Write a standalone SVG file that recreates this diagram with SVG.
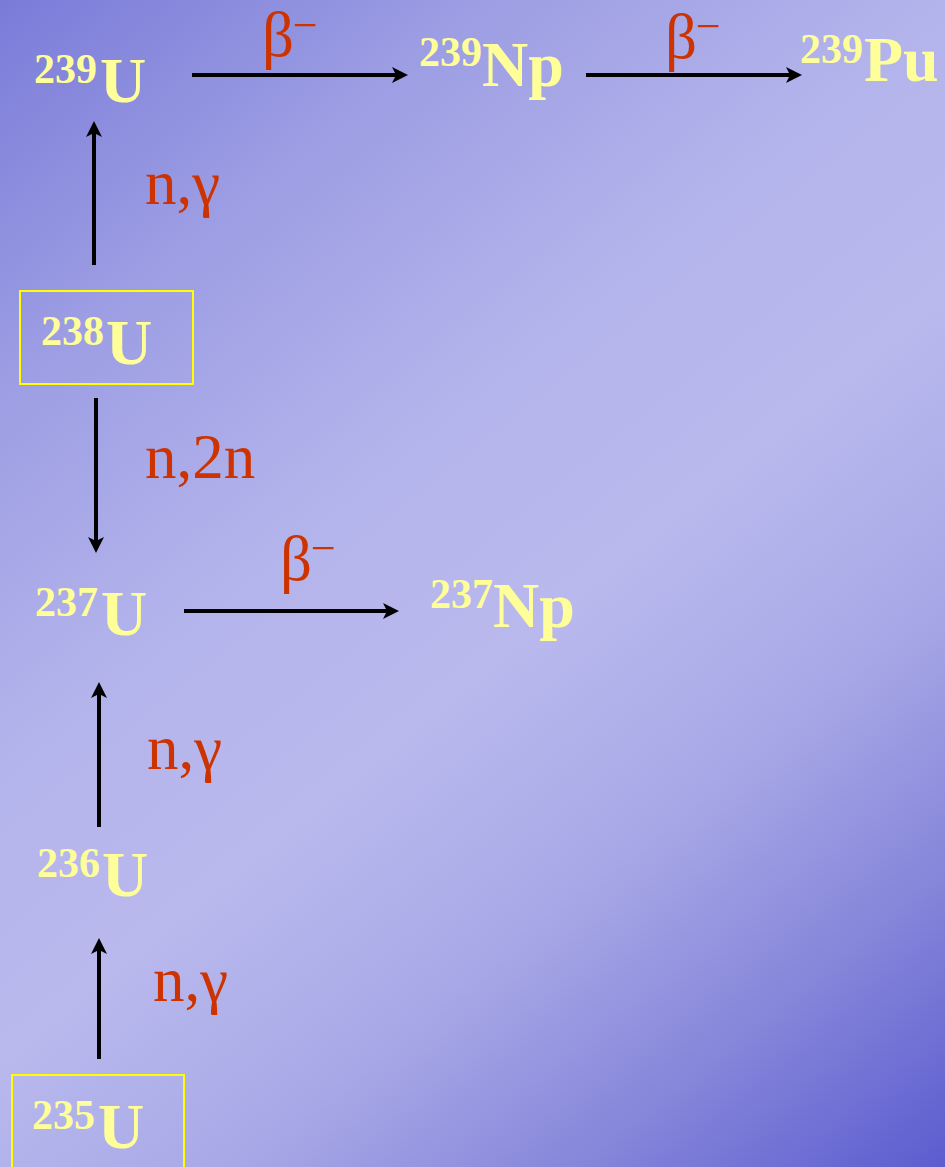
<svg xmlns="http://www.w3.org/2000/svg" width="945" height="1167" viewBox="0 0 945 1167">
<style>
.iso{font-family:"Liberation Serif","Times New Roman",serif;font-weight:bold;fill:#ffff99}
.sup{font-size:42px}
.el{font-size:64px}
.lbl{font-family:"Liberation Serif","Times New Roman",serif;fill:#cc3300;font-size:63px}
.minus{font-family:"Liberation Serif","Times New Roman",serif;fill:#cc3300;font-size:44px}
.arr{stroke:#000;stroke-width:4;fill:none;marker-end:url(#ah)}
.box{fill:none;stroke:#ffff00;stroke-width:2}
</style>
<defs>
<linearGradient id="bg" gradientUnits="userSpaceOnUse" x1="0" y1="0" x2="945" y2="1167">
<stop offset="0" stop-color="#7a7bd8"/>
<stop offset="0.2" stop-color="#9c9de3"/>
<stop offset="0.4" stop-color="#b4b4ec"/>
<stop offset="0.55" stop-color="#b9b9ee"/>
<stop offset="0.7" stop-color="#a8a8e7"/>
<stop offset="0.85" stop-color="#8585da"/>
<stop offset="1" stop-color="#5c5cd0"/>
</linearGradient>
<marker id="ah" markerUnits="userSpaceOnUse" markerWidth="17" markerHeight="17" viewBox="0 0 17 17" refX="8" refY="8.5" orient="auto">
<path d="M0,0.5 L16,8.5 L0,16.5 L4,8.5 Z" fill="#000"/>
</marker>
</defs>
<rect x="0" y="0" width="945" height="1167" fill="url(#bg)"/>

<g id="connectors">
<line class="arr" x1="192" y1="75" x2="400" y2="75"/>
<line class="arr" x1="586" y1="75" x2="794" y2="75"/>
<line class="arr" x1="184" y1="611" x2="391" y2="611"/>
<line class="arr" x1="94" y1="265" x2="94" y2="129"/>
<line class="arr" x1="96" y1="398" x2="96" y2="545"/>
<line class="arr" x1="99" y1="827" x2="99" y2="690"/>
<line class="arr" x1="99" y1="1059" x2="99" y2="946"/>
<g id="labels">
<text class="lbl" x="262" y="56">β</text><text class="minus" x="293" y="40">−</text>
<text class="lbl" x="665" y="58">β</text><text class="minus" x="696" y="41">−</text>
<text class="lbl" x="280" y="580">β</text><text class="minus" x="311" y="563">−</text>
<text class="lbl" x="145" y="204">n,γ</text>
<text class="lbl" x="145" y="478">n,2n</text>
<text class="lbl" x="147" y="769">n,γ</text>
<text class="lbl" x="153" y="1001">n,γ</text>
</g>
</g>

<g id="U239"><text class="iso"><tspan class="sup" x="34" y="83">239</tspan><tspan class="el" x="100" y="102">U</tspan></text></g>
<g id="Np239"><text class="iso"><tspan class="sup" x="419" y="66">239</tspan><tspan class="el" x="482" y="86">Np</tspan></text></g>
<g id="Pu239"><text class="iso"><tspan class="sup" x="800" y="63">239</tspan><tspan class="el" x="864" y="81">Pu</tspan></text></g>
<g id="U238"><rect class="box" x="20" y="291" width="173" height="93"/><text class="iso"><tspan class="sup" x="41" y="345">238</tspan><tspan class="el" x="106" y="364">U</tspan></text></g>
<g id="U237"><text class="iso"><tspan class="sup" x="35" y="616">237</tspan><tspan class="el" x="101" y="635">U</tspan></text></g>
<g id="Np237"><text class="iso"><tspan class="sup" x="430" y="608">237</tspan><tspan class="el" x="493" y="627">Np</tspan></text></g>
<g id="U236"><text class="iso"><tspan class="sup" x="37" y="877">236</tspan><tspan class="el" x="102" y="896">U</tspan></text></g>
<g id="U235"><rect class="box" x="12" y="1075" width="172" height="100"/><text class="iso"><tspan class="sup" x="32" y="1129">235</tspan><tspan class="el" x="98" y="1148">U</tspan></text></g>
</svg>
